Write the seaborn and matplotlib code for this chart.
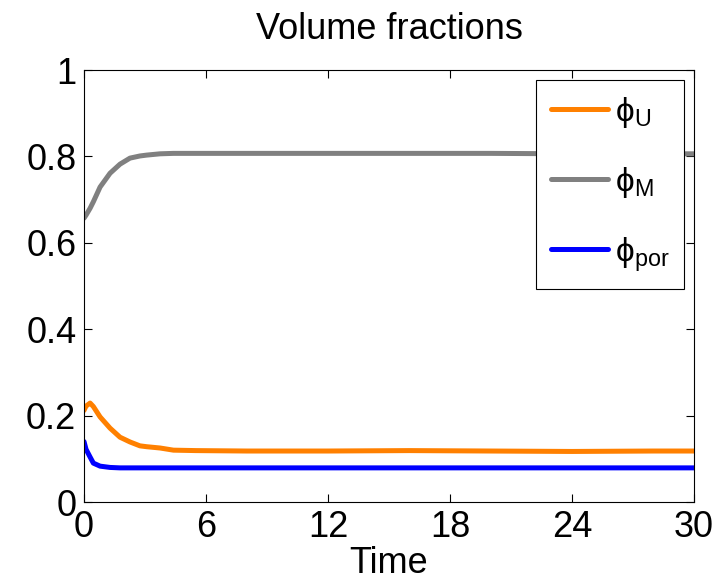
import numpy as np
import matplotlib
matplotlib.use("Agg")
import matplotlib.pyplot as plt
import seaborn as sns
import pandas as pd

# values
time = [0, 0.1, 0.3, 0.46, 0.79, 1.28, 1.77, 2.26, 2.75, 3.08, 3.74, 4.4, 5.5,
        8, 12, 16, 20, 24, 28, 30]
phi_u = [0.212, 0.222, 0.229, 0.221, 0.197, 0.171, 0.150, 0.139, 0.130, 0.128,
         0.125, 0.120, 0.119, 0.118, 0.118, 0.119, 0.118, 0.117, 0.118, 0.118]
phi_m = [0.657, 0.664, 0.680, 0.695, 0.729, 0.761, 0.782, 0.796, 0.801, 0.803,
         0.806, 0.807, 0.807, 0.807, 0.807, 0.807, 0.807, 0.806, 0.806, 0.806]
phi_por = [0.140, 0.122, 0.104, 0.090, 0.083, 0.080, 0.079, 0.079, 0.079, 0.079,
           0.079, 0.079, 0.079, 0.079, 0.079, 0.079, 0.079, 0.079, 0.079, 0.079]

labels = ['\u03d5$_{\\mathrm{U}}$', '\u03d5$_{\\mathrm{M}}$', '\u03d5$_{\\mathrm{por}}$']
colors = ['#FF8000', '#808080', '#0000FF']

df = pd.concat([
    pd.DataFrame({'time': time, 'value': phi_u, 'series': labels[0]}),
    pd.DataFrame({'time': time, 'value': phi_m, 'series': labels[1]}),
    pd.DataFrame({'time': time, 'value': phi_por, 'series': labels[2]}),
])

sns.set_style('ticks')
plt.rcParams['font.family'] = ['Liberation Sans', 'DejaVu Sans']
plt.rcParams['mathtext.fontset'] = 'custom'
plt.rcParams['mathtext.rm'] = 'Liberation Sans'
plt.rcParams['text.color'] = 'black'
plt.rcParams['axes.labelcolor'] = 'black'
plt.rcParams['xtick.color'] = 'black'
plt.rcParams['ytick.color'] = 'black'

fig = plt.figure(figsize=(7.26, 5.85), dpi=100)
ax = fig.add_axes([84 / 726, 1 - 502 / 585, 610 / 726, 432 / 585])

sns.lineplot(data=df, x='time', y='value', hue='series', palette=colors,
             linewidth=3.6, ax=ax, sort=False)

ax.set_xlim(0, 30)
ax.set_ylim(0, 1)
ax.set_xticks([0, 6, 12, 18, 24, 30])
ax.set_yticks([0, 0.2, 0.4, 0.6, 0.8, 1])
ax.set_yticklabels(['0', '0.2', '0.4', '0.6', '0.8', '1'])
ax.tick_params(direction='in', length=6, width=0.8, labelsize=26,
               top=True, right=True, pad=5.5)
for s in ax.spines.values():
    s.set_linewidth(0.8)
    s.set_color('black')

ax.set_title('Volume fractions', fontsize=26, pad=22)
ax.set_xlabel('Time', fontsize=26, labelpad=1)
ax.set_ylabel('')

leg = ax.legend(loc='upper right', fontsize=24, frameon=True, fancybox=False,
                framealpha=1, edgecolor='black', handlelength=1.7,
                handletextpad=0.2, labelspacing=1.05, borderaxespad=0.3,
                borderpad=0.45)
leg.get_frame().set_linewidth(0.8)

fig.savefig('out.png', dpi=100)
